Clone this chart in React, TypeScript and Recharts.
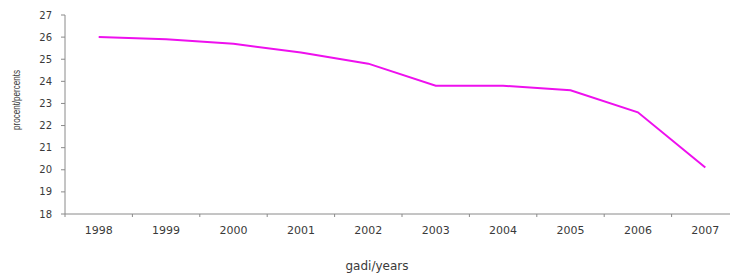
import { LineChart, Line, XAxis, YAxis, Label } from "recharts"

const years = ["1998", "1999", "2000", "2001", "2002", "2003", "2004", "2005", "2006", "2007"]
const percents = [26.0, 25.9, 25.7, 25.3, 24.8, 23.8, 23.8, 23.6, 22.6, 20.1]
const yTicks = [18, 19, 20, 21, 22, 23, 24, 25, 26, 27]

const data = years.map((year, i) => ({ year, value: percents[i] }))

const CHART_W = 745
const CHART_H = 276
const AXIS_W = 65
const RIGHT = 6
const PLOT_W = CHART_W - AXIS_W - RIGHT
const BAND = PLOT_W / years.length
const AXIS_COLOR = "#8a8a8a"
const TEXT_COLOR = "#3a3a3a"

function YearTick(props: any) {
  const { x, y, payload, index } = props
  return (
    <g>
      {index === 0 && <line x1={x - BAND / 2} y1={y} x2={x - BAND / 2} y2={y + 3} stroke={AXIS_COLOR} />}
      <line x1={x + BAND / 2} y1={y} x2={x + BAND / 2} y2={y + 3} stroke={AXIS_COLOR} />
      <text x={x} y={y + 20} textAnchor="middle" fontSize={11} fill={TEXT_COLOR} fontFamily="DejaVu Sans">
        {payload.value}
      </text>
    </g>
  )
}

export default function App() {
  return (
    <div style={{ position: "absolute", left: 0, top: 0, width: 730, height: CHART_H, overflow: "hidden", background: "#fff" }}>
      <LineChart width={CHART_W} height={CHART_H} data={data} margin={{ top: 15, right: RIGHT, bottom: 0, left: 0 }}>
        <XAxis
          dataKey="year"
          height={62}
          padding={{ left: BAND / 2, right: BAND / 2 }}
          tickLine={false}
          tickSize={0}
          tickMargin={0}
          interval={0}
          tick={<YearTick />}
          stroke={AXIS_COLOR}
        >
          <Label
            content={() => (
              <text x={377} y={270} textAnchor="middle" fontSize={12} fill={TEXT_COLOR} fontFamily="DejaVu Sans">
                gadi/years
              </text>
            )}
          />
        </XAxis>
        <YAxis
          width={AXIS_W}
          domain={[18, 27]}
          ticks={yTicks}
          interval={0}
          tickSize={4}
          tickMargin={9}
          stroke={AXIS_COLOR}
          tick={{ fill: TEXT_COLOR, fontSize: 10, fontFamily: "DejaVu Sans" }}
        >
          <Label
            content={() => (
              <text
                x={20}
                y={100}
                transform="rotate(-90 20 100)"
                textAnchor="middle"
                fontSize={10}
                textLength={60}
                lengthAdjust="spacingAndGlyphs"
                fill={TEXT_COLOR}
                fontFamily="Liberation Sans"
              >
                procent/percents
              </text>
            )}
          />
        </YAxis>
        <Line
          type="linear"
          dataKey="value"
          stroke="#ee10ee"
          strokeWidth={2}
          dot={false}
          isAnimationActive={false}
        />
      </LineChart>
    </div>
  )
}
